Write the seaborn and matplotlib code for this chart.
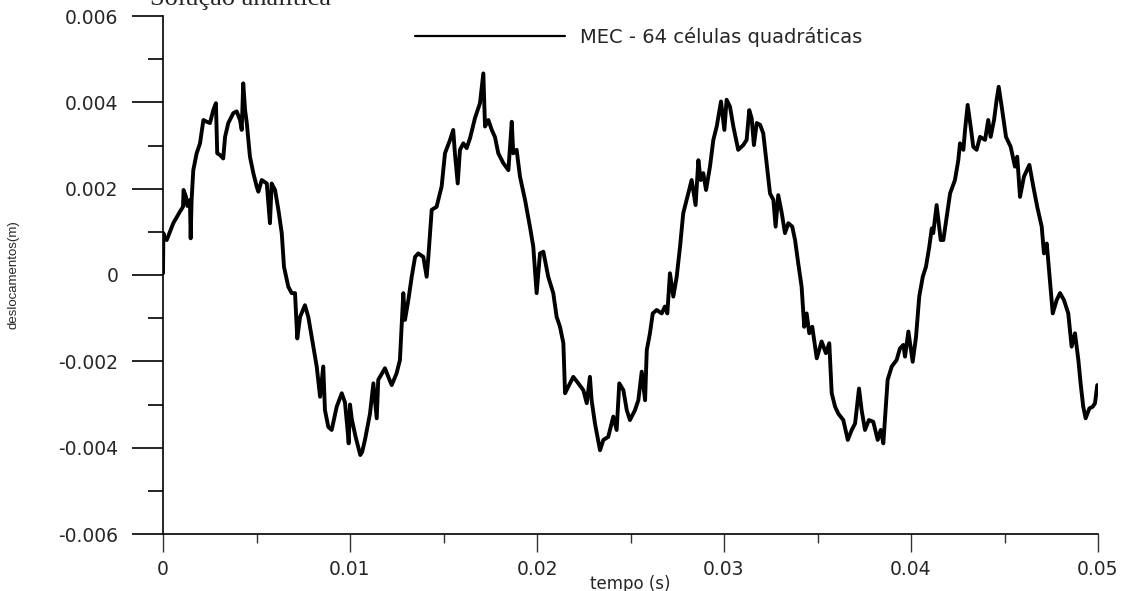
import numpy as np
import pandas as pd
import seaborn as sns
import matplotlib
matplotlib.use("Agg")
import matplotlib.pyplot as plt
from matplotlib.lines import Line2D
from matplotlib.ticker import FixedLocator, MultipleLocator

# ---------------- data (time in ms, displacement in mm) ----------------
tempo_ms = [
    0.0, 0.02, 0.08, 0.20, 0.55, 0.91, 1.07, 1.10, 1.23, 1.30, 1.44, 1.48, 1.53, 1.62, 1.80, 1.98,
    2.16, 2.34, 2.51, 2.69, 2.83, 2.90, 3.05, 3.22, 3.32, 3.49, 3.76, 3.94, 4.12, 4.21, 4.29, 4.39,
    4.48, 4.65, 4.83, 5.01, 5.10, 5.28, 5.55, 5.72, 5.81, 5.99, 6.17, 6.35, 6.47, 6.70, 6.88, 7.06,
    7.18, 7.33, 7.59, 7.77, 7.95, 8.22, 8.40, 8.57, 8.66, 8.84, 9.02, 9.29, 9.56, 9.73, 9.85, 9.93,
    10.00, 10.10, 10.30, 10.55, 10.65, 10.80, 11.07, 11.25, 11.43, 11.51, 11.87, 12.05, 12.23, 12.49,
    12.67, 12.76, 12.85, 12.94, 13.12, 13.30, 13.48, 13.65, 13.92, 14.10, 14.19, 14.37, 14.63, 14.90,
    15.08, 15.35, 15.52, 15.61, 15.76, 15.88, 16.06, 16.24, 16.42, 16.68, 16.95, 17.13, 17.22, 17.40,
    17.58, 17.75, 17.93, 18.20, 18.47, 18.65, 18.73, 18.91, 19.09, 19.36, 19.63, 19.80, 19.98, 20.16,
    20.34, 20.60, 20.87, 21.05, 21.23, 21.41, 21.50, 21.67, 21.94, 22.21, 22.48, 22.66, 22.83, 22.92,
    23.10, 23.37, 23.55, 23.81, 24.08, 24.26, 24.40, 24.62, 24.80, 24.97, 25.24, 25.42, 25.60, 25.78,
    25.87, 26.04, 26.19, 26.40, 26.67, 26.84, 26.97, 27.11, 27.29, 27.47, 27.65, 27.82, 28.00, 28.27,
    28.48, 28.63, 28.75, 28.89, 29.04, 29.25, 29.43, 29.61, 29.70, 29.84, 30.02, 30.14, 30.32, 30.50,
    30.76, 31.03, 31.21, 31.35, 31.48, 31.60, 31.75, 31.93, 32.10, 32.28, 32.46, 32.64, 32.76, 32.90,
    33.09, 33.26, 33.44, 33.65, 33.80, 33.97, 34.15, 34.29, 34.42, 34.56, 34.72, 34.96, 35.22, 35.45,
    35.63, 35.76, 35.94, 36.11, 36.38, 36.62, 36.83, 37.01, 37.22, 37.36, 37.54, 37.75, 37.98, 38.22,
    38.38, 38.52, 38.75, 38.97, 39.23, 39.41, 39.59, 39.68, 39.86, 40.09, 40.27, 40.44, 40.63, 40.80,
    40.98, 41.11, 41.19, 41.37, 41.59, 41.73, 41.91, 42.09, 42.35, 42.53, 42.62, 42.80, 42.89, 43.03,
    43.19, 43.33, 43.51, 43.69, 43.96, 44.13, 44.26, 44.44, 44.58, 44.69, 44.85, 45.08, 45.33, 45.56,
    45.68, 45.83, 46.04, 46.33, 46.54, 46.75, 46.99, 47.11, 47.26, 47.43, 47.58, 47.79, 47.97, 48.18,
    48.41, 48.59, 48.77, 48.95, 49.07, 49.21, 49.34, 49.54, 49.72, 49.84, 49.96,
]
desloc_mm = [
    0.04, 0.97, 0.85, 0.81, 1.20, 1.47, 1.58, 1.97, 1.81, 1.60, 1.74, 0.85, 1.74, 2.43, 2.82, 3.05,
    3.59, 3.55, 3.52, 3.82, 3.98, 2.82, 2.78, 2.70, 3.20, 3.52, 3.75, 3.79, 3.59, 3.36, 4.44, 3.82,
    3.52, 2.74, 2.36, 2.05, 1.93, 2.20, 2.12, 1.20, 2.12, 1.97, 1.51, 0.97, 0.19, -0.27, -0.42, -0.42,
    -1.47, -0.97, -0.70, -0.97, -1.43, -2.12, -2.82, -2.12, -3.13, -3.52, -3.59, -3.05, -2.74, -2.95, -3.50, -3.90,
    -3.00, -3.35, -3.75, -4.17, -4.10, -3.82, -3.21, -2.51, -3.32, -2.43, -2.16, -2.36, -2.55, -2.28,
    -1.97, -1.20, -0.42, -1.04, -0.58, -0.04, 0.42, 0.50, 0.42, -0.04, 0.42, 1.51, 1.58, 2.05,
    2.82, 3.13, 3.36, 2.82, 2.12, 2.90, 3.05, 2.94, 3.17, 3.63, 3.98, 4.67, 3.44, 3.59,
    3.36, 3.20, 2.82, 2.59, 2.43, 3.55, 2.82, 2.90, 2.28, 1.74, 1.10, 0.66, -0.42, 0.50,
    0.54, -0.04, -0.42, -0.97, -1.20, -1.58, -2.74, -2.59, -2.36, -2.51, -2.67, -2.97, -2.36, -2.90,
    -3.44, -4.06, -3.82, -3.75, -3.28, -3.59, -2.51, -2.67, -3.13, -3.36, -3.13, -2.90, -2.24, -2.90,
    -1.74, -1.35, -0.89, -0.81, -0.89, -0.73, -0.89, 0.04, -0.50, -0.04, 0.66, 1.43, 1.74, 2.20,
    1.62, 2.66, 2.20, 2.36, 1.97, 2.51, 3.13, 3.44, 3.67, 4.02, 3.36, 4.06, 3.90, 3.44,
    2.90, 3.01, 3.13, 3.82, 3.63, 3.01, 3.52, 3.48, 3.28, 2.59, 1.89, 1.74, 1.12, 1.85,
    1.43, 0.97, 1.20, 1.12, 0.81, 0.27, -0.27, -1.20, -0.89, -1.35, -1.20, -1.93, -1.54, -1.81,
    -1.58, -2.74, -3.05, -3.21, -3.36, -3.82, -3.59, -3.44, -2.63, -3.13, -3.59, -3.36, -3.40, -3.82,
    -3.59, -3.90, -2.43, -2.12, -1.97, -1.70, -1.62, -1.89, -1.31, -2.01, -1.43, -0.50, -0.04, 0.19,
    0.66, 1.08, 0.97, 1.62, 0.81, 0.81, 1.35, 1.89, 2.20, 2.66, 3.05, 2.90, 3.36, 3.94,
    3.44, 2.97, 2.90, 3.20, 3.13, 3.59, 3.20, 3.59, 4.06, 4.36, 3.90, 3.20, 2.97, 2.51,
    2.74, 1.81, 2.28, 2.55, 2.05, 1.58, 1.12, 0.50, 0.73, -0.12, -0.89, -0.58, -0.42, -0.58,
    -0.89, -1.66, -1.35, -1.97, -2.51, -3.05, -3.32, -3.09, -3.05, -2.97, -2.55,
]

x_ticks = [0.0, 0.01, 0.02, 0.03, 0.04, 0.05]
x_tick_labels = ["0", "0.01", "0.02", "0.03", "0.04", "0.05"]
y_ticks = [-0.006, -0.004, -0.002, 0.0, 0.002, 0.004, 0.006]
y_tick_labels = ["-0.006", "-0.004", "-0.002", "0", "0.002", "0.004", "0.006"]

serie_label = "MEC - 64 células quadráticas"
titulo_topo = "Solução analítica"
x_label = "tempo (s)"
y_label = "deslocamentos(m)"

# ---------------- build table ----------------
df = pd.DataFrame({
    "tempo": np.array(tempo_ms) / 1000.0,
    "desloc": np.array(desloc_mm) / 1000.0,
})

sns.set_style("white")
plt.rcParams["font.family"] = ["DejaVu Sans"]

W, H = 1128, 591
fig = plt.figure(figsize=(W / 100, H / 100), dpi=100)
ax = fig.add_axes([163 / W, 1 - 534 / H, (1098 - 163) / W, (534 - 16) / H])

sns.lineplot(data=df, x="tempo", y="desloc", ax=ax, color="black",
             linewidth=2.8, sort=False, estimator=None, legend=False)

ax.set_xlim(0, 0.05)
ax.set_ylim(-0.006, 0.006)

ax.xaxis.set_major_locator(FixedLocator(x_ticks))
ax.set_xticklabels(x_tick_labels)
ax.xaxis.set_minor_locator(MultipleLocator(0.005))
ax.yaxis.set_major_locator(FixedLocator(y_ticks))
ax.set_yticklabels(y_tick_labels)
ax.yaxis.set_minor_locator(MultipleLocator(0.001))

for s in ["top", "right"]:
    ax.spines[s].set_visible(False)
for s in ["left", "bottom"]:
    ax.spines[s].set_color("black")
    ax.spines[s].set_linewidth(1.2)

ax.tick_params(axis="x", which="major", direction="out", length=13, width=1.0,
               color="#333333", pad=6, labelsize=13.5, bottom=True)
ax.tick_params(axis="x", which="minor", direction="out", length=6.5, width=1.0,
               color="#333333", bottom=True)
ax.tick_params(axis="y", which="major", direction="out", length=22, width=1.2,
               color="black", pad=10, labelsize=13.5, left=True)
ax.tick_params(axis="y", which="minor", direction="out", length=11, width=1.2,
               color="black", left=True)

ax.set_xlabel(x_label, fontsize=12, labelpad=-3)
ax.set_ylabel(y_label, fontsize=9.5, family=["Liberation Sans", "DejaVu Sans"], labelpad=28)

# legend (line + label)
handle = Line2D([0], [0], color="black", linewidth=1.6)
fig.legend([handle], [serie_label], loc="center left",
           bbox_to_anchor=(415 / W, 1 - 37 / H), frameon=False,
           handlelength=150 / 19.4, handletextpad=0.75, borderpad=0,
           borderaxespad=0, fontsize=14)

# partially visible top label (cut by the top edge, as in the original)
fig.text(150 / W, 1 - 5 / H, titulo_topo, family=["Liberation Serif", "DejaVu Serif"],
         fontsize=19, ha="left", va="baseline")

fig.savefig("out.png", dpi=100)
